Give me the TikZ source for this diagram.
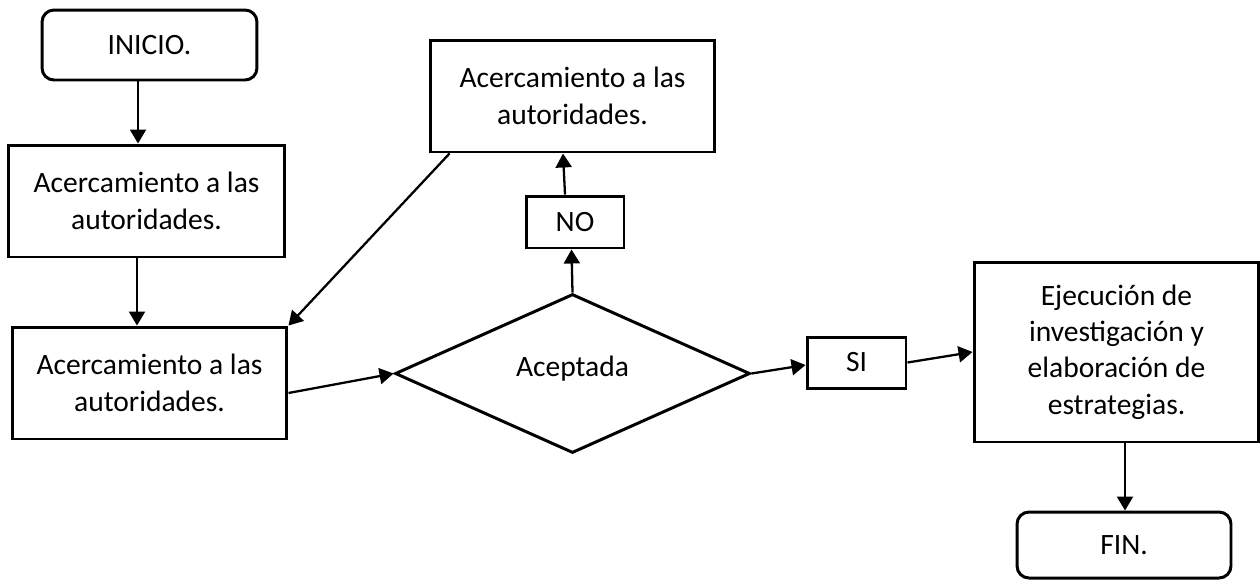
\documentclass[tikz,border=0pt]{standalone}
\usepackage{fontspec}
\setmainfont{Carlito}
\usetikzlibrary{shapes.geometric,arrows.meta}

\begin{document}
\begin{tikzpicture}[x=0.02cm, y=-0.02cm, > = {Triangle[length=2.8mm,width=3.2mm]}]
    \tikzset{
      block/.style={
        draw, rectangle, line width=1.7pt, align=center, inner sep=0pt,
        font=\fontsize{16.8}{20.7}\selectfont,
      },
      term/.style={block, rounded corners=2.4mm},
      decision/.style={block, diamond},
      link/.style={->, line width=1.3pt},
    }
    \useasboundingbox (0,0) rectangle (1260,579);
    % blocks
    \node (inicio) [term, minimum width=4.3cm, minimum height=1.4cm] at (149.5,45) {INICIO.};
    \node (acerca1) [block, minimum width=5.54cm, minimum height=2.24cm] at (146.5,201) {Acercamiento a las\\autoridades.};
    \node (acerca2) [block, minimum width=5.5cm, minimum height=2.24cm] at (149.5,383) {Acercamiento a las\\autoridades.};
    \node (acerca3) [block, minimum width=5.7cm, minimum height=2.24cm] at (572.5,96) {Acercamiento a las\\autoridades.};
    \node (no) [block, minimum width=1.96cm, minimum height=1.04cm] at (575,222) {NO};
    \node (aceptada) [decision, minimum width=7.1cm, minimum height=3.18cm] at (572.5,373.5) {\raisebox{-0.6mm}[0pt][0pt]{Aceptada}};
    \node (si) [block, minimum width=1.98cm, minimum height=1.02cm] at (856.5,362.5) {SI};
    \node (ejec) [block, minimum width=5.7cm, minimum height=3.6cm] at (1116.5,352) {Ejecución de\\investigación y\\elaboración de\\estrategias.};
    \node (fin) [term, minimum width=4.28cm, minimum height=1.32cm] at (1124,545) {FIN.};
    % arrows
    \draw[link] ([xshift=-2.3mm]inicio.south) -- ([xshift=-2.3mm]inicio.south |- acerca1.north);
    \draw[link] ([xshift=-1.9mm]acerca1.south) -- ([xshift=-1.9mm]acerca1.south |- acerca2.north);
    \draw[link] ([xshift=4.2mm]acerca3.south west) -- (acerca2.north east);
    \draw[link] ([yshift=-2mm]acerca2.east) -- (aceptada.west);
    \draw[link] (aceptada.north) -- ([xshift=-0.7mm]no.south);
    \draw[link] ([xshift=-2mm]no.north) -- ([xshift=-1.9mm]acerca3.south);
    \draw[link] (aceptada.east) -- ([yshift=-0.5mm]si.west);
    \draw[link] (si.east) -- (ejec.west);
    \draw[link] ([xshift=1.7mm]ejec.south) -- ([xshift=1.7mm]ejec.south |- fin.north);
\end{tikzpicture}
\end{document}
